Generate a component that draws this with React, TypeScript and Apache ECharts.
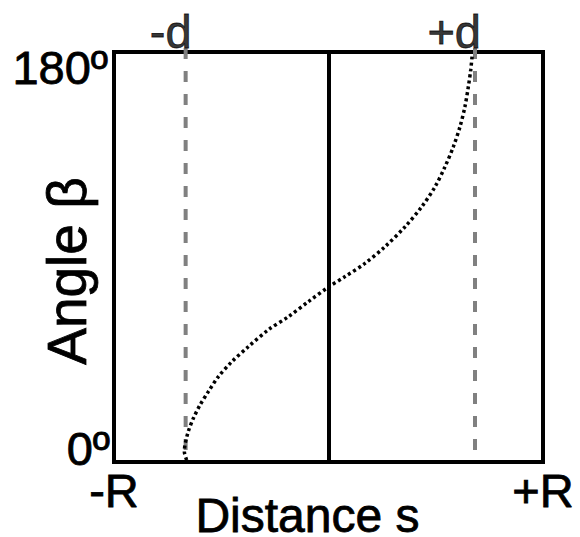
import React, { useEffect, useRef } from 'react';
import * as echarts from 'echarts';

// Curve: distance s (in units of R) vs angle beta (degrees)
const sValues = [-0.661, -0.672, -0.669, -0.654, -0.63, -0.599, -0.56, -0.514, -0.451, -0.374, -0.281, -0.187, -0.094, 0, 0.077, 0.17, 0.263, 0.357, 0.435, 0.497, 0.543, 0.582, 0.613, 0.636, 0.652, 0.663, 0.67];
const betaValues = [0.8, 4.5, 7.5, 13.3, 19.2, 25.0, 30.9, 37.4, 44.0, 50.6, 58.0, 63.8, 70.4, 76.8, 81.4, 87.2, 94.5, 103.3, 112.1, 120.9, 129.6, 138.4, 147.2, 156.0, 164.8, 172.1, 178.7];

// Dashed reference lines at -d and +d
const dPositions = [-0.666, 0.683];
const dLabels = ['-d', '+d'];
const dashExtent = [181.8, 2.2];

// Tick labels
const xTickValues = [-1, 1];
const xTickLabels = ['-R', '+R'];
const yTickValues = [0, 180];
const yTickLabels = ['0º', '180º'];

const FONT = '"Liberation Sans", Arial, Helvetica, sans-serif';
const TXT = { color: '#000', fontFamily: FONT, textBorderColor: '#000', textBorderWidth: 0.8 };

export default function App() {
  const ref = useRef<HTMLDivElement>(null);
  useEffect(() => {
    if (!ref.current) return;
    const chart = echarts.init(ref.current, null, { renderer: 'svg' });
    const curve = sValues.map((s, i) => [s, betaValues[i]]);
    const yLabel = (target: number) => (v: number) => {
      const i = yTickValues.indexOf(v);
      return i >= 0 && v === target ? yTickLabels[i] : '';
    };
    const dashSeries = dPositions.map((x, i) => ({
      type: 'line',
      name: 'dash' + i,
      data: dashExtent.map((b) => [x, b]),
      showSymbol: false,
      clip: false,
      silent: true,
      z: 1,
      lineStyle: { color: '#808080', width: 4, type: [11, 12], cap: 'butt' },
    }));
    chart.setOption({
      animation: false,
      grid: {
        left: 114,
        right: 37,
        top: 52,
        bottom: 75,
        containLabel: false,
        outerBoundsMode: 'none',
        show: true,
        borderColor: '#000',
        borderWidth: 4,
      },
      xAxis: {
        type: 'value',
        min: -1,
        max: 1,
        interval: 1,
        axisLine: { show: true, lineStyle: { color: '#000', width: 4 } },
        axisTick: { show: false },
        splitLine: { show: true, lineStyle: { color: '#000', width: 3.5, type: 'solid' } },
        axisLabel: {
          showMinLabel: true,
          showMaxLabel: true,
          formatter: (v: number) => {
            const i = xTickValues.indexOf(v);
            return i >= 0 ? xTickLabels[i] : '';
          },
          fontSize: 47,
          ...TXT,
          margin: 5,
        },
        name: 'Distance s',
        nameLocation: 'middle',
        nameGap: 35,
        nameMoveOverlap: false,
        nameTextStyle: { fontSize: 48, ...TXT, lineHeight: 36, padding: [0, 42, 0, 0] },
      },
      yAxis: [
        {
          type: 'value',
          min: 0,
          max: 180,
          interval: 180,
          position: 'left',
          axisLine: { show: true, lineStyle: { color: '#000', width: 4 } },
          axisTick: { show: false },
          splitLine: { show: false },
          axisLabel: {
            formatter: yLabel(180),
            fontSize: 47,
            ...TXT,
            margin: 6,
            verticalAlign: 'top',
            lineHeight: 31,
          },
          name: 'Angle β',
          nameLocation: 'middle',
          nameGap: 20,
          nameMoveOverlap: false,
          nameTextStyle: { fontSize: 55, ...TXT, padding: [0, 28, 0, 0] },
        },
        {
          type: 'value',
          min: 0,
          max: 180,
          interval: 180,
          position: 'left',
          axisLine: { show: false },
          axisTick: { show: false },
          splitLine: { show: false },
          axisLabel: {
            formatter: yLabel(0),
            fontSize: 47,
            ...TXT,
            margin: 4,
            verticalAlign: 'bottom',
            lineHeight: 28,
          },
        },
      ],
      series: [
        ...dashSeries,
        {
          type: 'line',
          name: 'curve',
          data: curve,
          smooth: 0.3,
          showSymbol: false,
          clip: false,
          silent: true,
          z: 3,
          lineStyle: { color: '#000', width: 3.5, type: [3, 3], cap: 'butt' },
        },
        {
          type: 'scatter',
          name: 'dLabels',
          data: dPositions.map((x, i) => ({ value: [x, 180], name: dLabels[i] })),
          symbolSize: 1,
          silent: true,
          itemStyle: { color: 'transparent' },
          label: {
            show: true,
            position: 'top',
            distance: 0,
            align: 'right',
            offset: [6, 3],
            formatter: (p: any) => p.name,
            fontSize: 47,
            ...TXT,
          },
          z: 4,
        },
      ],
    });
    return () => chart.dispose();
  }, []);
  return (
    <div
      ref={ref}
      style={{ position: 'fixed', left: 0, top: 0, width: 580, height: 537, background: '#fff' }}
    />
  );
}
